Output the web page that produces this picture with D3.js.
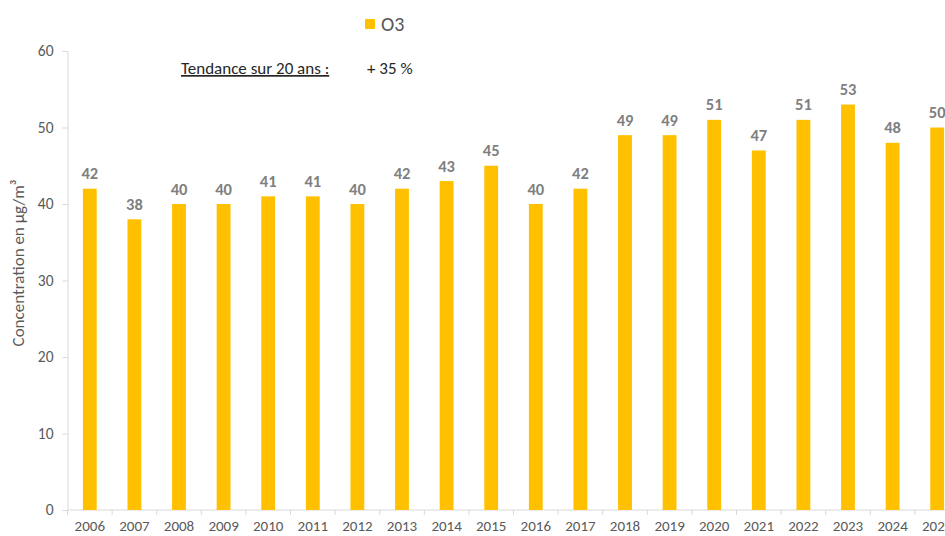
<!DOCTYPE html>
<html><head><meta charset="utf-8">
<script src="https://cdn.jsdelivr.net/npm/d3@7"></script>
<style>
body{margin:0;background:#fff;}
svg{display:block;font-family:Carlito,Lato,"Liberation Sans",sans-serif;}
</style></head>
<body>
<svg id="chart" width="945" height="536"></svg>
<script>
const years = ["2006","2007","2008","2009","2010","2011","2012","2013","2014","2015","2016","2017","2018","2019","2020","2021","2022","2023","2024","2025"];
const o3Values = [42,38,40,40,41,41,40,42,43,45,40,42,49,49,51,47,51,53,48,50];
const yTicks = [0,10,20,30,40,50,60];
const seriesName = "O3";
const yTitle = "Concentration en µg/m³";
const trendLabel = "Tendance sur 20 ans";
const trendValue = "+ 35 %";

const svg = d3.select("#chart");
const x0 = 67.5, band = 44.6;
const x = d3.scaleBand().domain(years).range([x0, x0 + band*years.length]).paddingInner(0.69).paddingOuter(0.345);
const y = d3.scaleLinear().domain([0,60]).range([510,51]);
const gray = "#595959", axisCol = "#d9d9d9", barCol = "#FFC000";

// y axis
const ya = svg.append("g").attr("transform",`translate(${x0},0)`)
  .call(d3.axisLeft(y).tickValues(yTicks).tickSize(5).tickPadding(9));
ya.select(".domain").attr("stroke",axisCol);
ya.selectAll(".tick line").attr("stroke",axisCol);
ya.selectAll(".tick text").attr("fill",gray).style("font-size","15.5px").style("font-family","Carlito,Lato,sans-serif");

// x axis with boundary ticks
const xa = svg.append("g").attr("transform",`translate(0,${y(0)})`);
xa.append("line").attr("x1",x0).attr("x2",x0+band*years.length).attr("stroke",axisCol);
xa.selectAll("line.b").data(d3.range(years.length+1)).join("line").attr("class","b")
  .attr("x1",i=>x0+i*band).attr("x2",i=>x0+i*band).attr("y1",0).attr("y2",5).attr("stroke",axisCol);
xa.selectAll("text").data(years).join("text")
  .attr("x",d=>x(d)+x.bandwidth()/2).attr("y",21).attr("text-anchor","middle")
  .attr("fill",gray).style("font-size","15px").text(d=>d);

// bars
const data = years.map((yr,i)=>({yr, v:o3Values[i]}));
svg.append("g").selectAll("rect").data(data).join("rect")
  .attr("x",d=>x(d.yr)).attr("width",x.bandwidth())
  .attr("y",d=>y(d.v)).attr("height",d=>y(0)-y(d.v)).attr("fill",barCol);

// value labels
svg.append("g").selectAll("text").data(data).join("text")
  .attr("x",d=>x(d.yr)+x.bandwidth()/2).attr("y",d=>y(d.v)-9.5)
  .attr("text-anchor","middle").attr("fill","#7f7f7f").style("font-size","16.5px").style("font-weight","bold")
  .text(d=>d.v);

// y title
svg.append("text").attr("transform","translate(24,263) rotate(-90)").attr("text-anchor","middle")
  .attr("fill",gray).style("font-size","17px").text(yTitle);

// legend
svg.append("rect").attr("x",365).attr("y",19).attr("width",10).attr("height",10).attr("fill",barCol);
svg.append("text").attr("x",381).attr("y",31).attr("fill",gray).style("font-size","20px").text(seriesName);

// trend annotation
const t = svg.append("text").attr("x",181).attr("y",74).attr("fill","#262626").style("font-size","17px");
t.append("tspan").attr("text-decoration","underline").text(trendLabel+" :");
svg.append("text").attr("x",367).attr("y",74).attr("fill","#262626").style("font-size","17px").text(trendValue);
</script>
</body></html>
